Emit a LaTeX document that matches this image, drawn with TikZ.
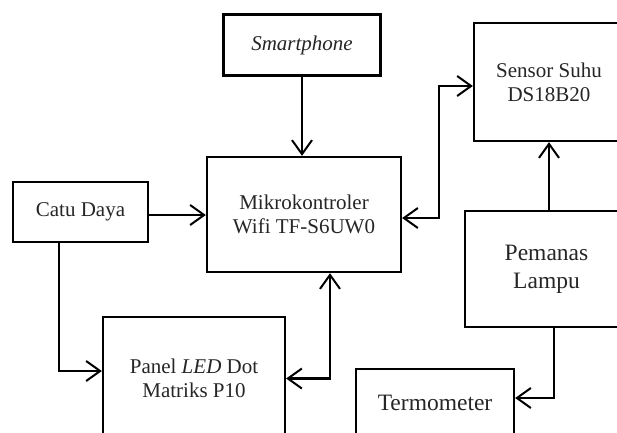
\documentclass[tikz,border=0pt]{standalone}
\usepackage{fontspec}
\setmainfont{Liberation Serif}
\usetikzlibrary{arrows.meta}
\begin{document}
\begin{tikzpicture}[x=1pt,y=1pt,
  blk/.style={draw=black, line width=2.3pt, rectangle, inner sep=0pt, align=center,
    font=\fontsize{21}{24}\selectfont, text=black!85},
  big/.style={font=\fontsize{23.5}{28}\selectfont},
  arr/.style={line width=2.2pt, -{Straight Barb[length=14pt,width=20pt,line width=2pt]}},
  arrb/.style={line width=2.2pt, {Straight Barb[length=14pt,width=20pt,line width=2pt]}-{Straight Barb[length=14pt,width=20pt,line width=2pt]}}]
\useasboundingbox (0,0) rectangle (617,-432);
\fill[white] (0,0) rectangle (617,-432);
\clip (0,0) rectangle (617,-432);
\node[blk, minimum width=157pt, minimum height=61pt] (smart) at (302,-45) {\textit{Smartphone}};
\node[blk, minimum width=194pt, minimum height=115pt] (mikro) at (304,-214.5) {Mikrokontroler\\Wifi TF-S6UW0};
\node[blk, minimum width=135pt, minimum height=60pt] (catu) at (80.5,-212) {Catu Daya};
\node[blk, minimum width=182pt, minimum height=123pt] (panel) at (194,-378.5) {Panel \textit{LED} Dot\\Matriks P10};
\node[blk, minimum width=150pt, minimum height=118pt] (sensor) at (549,-82) {Sensor Suhu\\DS18B20};
\node[blk, big, minimum width=163pt, minimum height=116pt] (pemanas) at (546.5,-269) {Pemanas\\Lampu};
\node[blk, big, minimum width=158pt, minimum height=68pt] (termo) at (435,-403) {Termometer};
% connectors
\draw[arr] (smart.south) -- (smart.south |- mikro.north);
\draw[arr] ([yshift=-3pt]catu.east) -- ([yshift=-3pt]catu.east -| mikro.west);
\draw[arr] ([xshift=-21.5pt]catu.south) |- ([yshift=7.5pt]panel.west);
\draw[arrb] (panel.east) -| ([xshift=26pt]mikro.south);
\draw[arrb] ([yshift=-3.5pt]mikro.east) -- ++(37,0) |- ([yshift=-4pt]sensor.west);
\draw[arr] (sensor.south |- pemanas.north) -- (sensor.south);
\draw[arr] ([xshift=7.5pt]pemanas.south) |- ([yshift=5pt]termo.east);
\end{tikzpicture}
\end{document}
